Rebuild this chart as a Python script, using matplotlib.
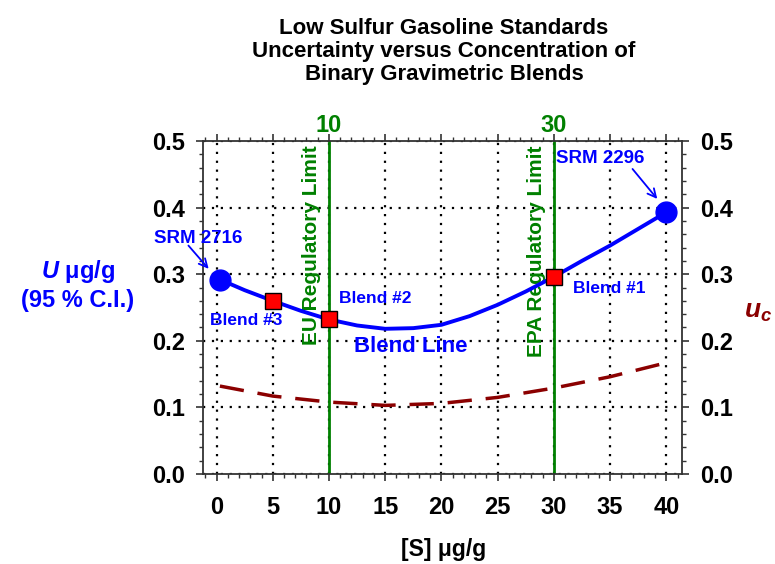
import matplotlib
matplotlib.use("Agg")
import matplotlib.pyplot as plt
import matplotlib.transforms as mtransforms
from matplotlib.ticker import MultipleLocator

plt.rcParams['font.family'] = ['Liberation Sans', 'DejaVu Sans']
plt.rcParams['font.weight'] = 'bold'
plt.rcParams['mathtext.fontset'] = 'custom'
plt.rcParams['mathtext.it'] = 'Liberation Sans:italic:bold'
plt.rcParams['mathtext.rm'] = 'Liberation Sans:bold'

# Data
blend_x = [0.3, 2.5, 5, 7.5, 10, 12.5, 15, 17.5, 20, 22.5, 25, 27.5, 30, 32.5, 35, 37.5, 40]
blend_U = [0.292, 0.276, 0.260, 0.245, 0.232, 0.223, 0.218, 0.219, 0.224, 0.237, 0.254, 0.274,
           0.296, 0.320, 0.343, 0.368, 0.393]
uc_x = [0.3, 5, 10, 15, 20, 25, 30, 35, 40]
uc_vals = [0.132, 0.117, 0.108, 0.103, 0.106, 0.115, 0.129, 0.146, 0.167]
srm_x = [0.3, 40]
srm_U = [0.292, 0.393]
srm_names = ["SRM 2716", "SRM 2296"]
blends_x = [5, 10, 30]
blends_U = [0.260, 0.232, 0.296]
blend_names = ["Blend #3", "Blend #2", "Blend #1"]
limits_x = [10, 30]
limit_names = ["EU Regulatory Limit", "EPA Regulatory Limit"]
x_ticks = [0, 5, 10, 15, 20, 25, 30, 35, 40]
y_ticks = [0.0, 0.1, 0.2, 0.3, 0.4, 0.5]

BLUE = '#0000FF'
GREEN = '#008000'
DRED = '#8B0000'

fig = plt.figure(figsize=(7.75, 5.64), dpi=100)
ax = fig.add_axes([0.262, 0.1596, 0.618, 0.5904])
ax.set_xlim(-1.2, 41.4)
ax.set_ylim(0, 0.5)

ax.set_xticks(x_ticks)
ax.set_yticks(y_ticks)
ax.set_yticklabels([f"{v:.1f}" for v in y_ticks])
ax.xaxis.set_minor_locator(MultipleLocator(1))
ax.yaxis.set_minor_locator(MultipleLocator(0.02))
ax.tick_params(which='both', direction='out', top=True, right=True, colors='#333333',
               labelcolor='black', labelsize=17)
ax.tick_params(which='major', length=5, width=1.2)
ax.tick_params(which='minor', length=3, width=1.0)
ax.tick_params(axis='x', pad=11)
ax.tick_params(axis='y', pad=8)
ax.tick_params(labelright=True)
for lab in ax.get_xticklabels() + ax.get_yticklabels():
    lab.set_fontweight('bold')
for s in ax.spines.values():
    s.set_linewidth(1.3)
    s.set_color('#333333')

ax.grid(True, which='major', linestyle=(0, (1, 3)), color='black', linewidth=1.6)

trans = mtransforms.blended_transform_factory(ax.transData, ax.transAxes)
# Limit lines
for lx, name in zip(limits_x, limit_names):
    ax.axvline(lx, color=GREEN, lw=2, zorder=2)
    ax.text(lx - 1.55, 0.493, name, rotation=90, color=GREEN, fontsize=15, fontweight='bold',
            ha='center', va='top', zorder=3)
    ax.text(lx, 1.012, str(lx), transform=trans, color=GREEN, fontsize=17, fontweight='bold',
            ha='center', va='bottom')

# u_c dashed
ax.plot(uc_x, uc_vals, color=DRED, lw=2.5, dashes=(7, 4), zorder=3)

# Blend line
ax.plot(blend_x, blend_U, color=BLUE, lw=2.8, zorder=4)
ax.plot(srm_x, srm_U, 'o', color=BLUE, ms=15, zorder=5)
ax.plot(blends_x, blends_U, 's', mfc='red', mec='black', mew=1, ms=11, zorder=6)

# Annotations
ax.text(-5.6, 0.353, srm_names[0], color=BLUE, fontsize=13.5, fontweight='bold',
        ha='left', va='center', clip_on=False)
ax.annotate('', xy=(-0.7, 0.308), xytext=(-2.5, 0.343),
            arrowprops=dict(arrowstyle='->', color=BLUE, lw=1.3, shrinkA=0, shrinkB=0,
                            mutation_scale=15), annotation_clip=False)
ax.text(30.2, 0.473, srm_names[1], color=BLUE, fontsize=13.5, fontweight='bold',
        ha='left', va='center')
ax.annotate('', xy=(39.2, 0.413), xytext=(37.0, 0.458),
            arrowprops=dict(arrowstyle='->', color=BLUE, lw=1.3, shrinkA=0, shrinkB=0,
                            mutation_scale=15))
ax.text(2.6, 0.2305, blend_names[0], color=BLUE, fontsize=12.5, fontweight='bold', ha='center', va='center')
ax.text(14.1, 0.264, blend_names[1], color=BLUE, fontsize=12.5, fontweight='bold', ha='center', va='center')
ax.text(34.9, 0.278, blend_names[2], color=BLUE, fontsize=12.5, fontweight='bold', ha='center', va='center')
ax.text(17.3, 0.192, "Blend Line", color=BLUE, fontsize=16, fontweight='bold', ha='center', va='center')

# Axis labels
fig.text(0.573, 0.025, "[S] \u03bcg/g", fontsize=16.5, fontweight='bold', ha='center', va='center')
fig.text(0.101, 0.518, "$U$ \u03bcg/g", color=BLUE, fontsize=17, fontweight='bold',
         ha='center', va='center')
fig.text(0.100, 0.468, "(95 % C.I.)", color=BLUE, fontsize=17, fontweight='bold',
         ha='center', va='center')
fig.text(0.978, 0.447, "$u_c$", color=DRED, fontsize=19, ha='center', va='center')

fig.text(0.573, 0.968, "Low Sulfur Gasoline Standards\nUncertainty versus Concentration of\nBinary Gravimetric Blends",
         fontsize=16, fontweight='bold', linespacing=1.12, ha='center', va='top')

fig.savefig("out.png", dpi=100)
